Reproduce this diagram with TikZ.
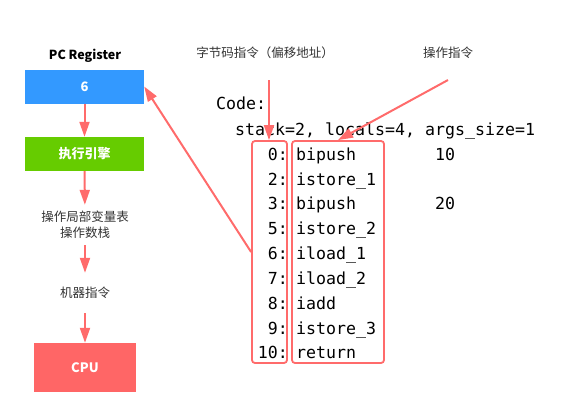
\documentclass[tikz,border=0pt]{standalone}
\usepackage{fontspec}
\setmainfont{Noto Sans CJK SC}
\setmonofont{DejaVu Sans Mono}
\usetikzlibrary{arrows.meta}

\definecolor{pcblue}{HTML}{3399FF}
\definecolor{enggreen}{HTML}{66CC00}
\definecolor{cpured}{HTML}{FF6666}
\definecolor{linered}{HTML}{FF6B6B}
\definecolor{labelgray}{HTML}{333333}

\begin{document}
\begin{tikzpicture}[x=1bp, y=-1bp,
  font=\fontsize{12.5bp}{16bp}\selectfont, text=labelgray,
  stage/.style={minimum width=119bp, minimum height=34bp, inner sep=0pt,
               text=white, font=\fontsize{13bp}{16bp}\selectfont\bfseries,
               fill=#1},
  stagetext/.style={minimum height=40bp, inner sep=0pt, align=center},
  code/.style={inner sep=0pt, anchor=base west, text=black,
               font=\ttfamily\fontsize{16.6bp}{20bp}\selectfont},
  offset/.style={code, anchor=base east},
  codebox/.style={draw=linered, line width=1.8bp, rounded corners=3bp,
                 inner sep=0pt},
  flow/.style={draw=linered, line width=2bp,
               -{Triangle[length=15bp, width=10bp]}}
]
  \useasboundingbox (0,0) rectangle (572,416);

  % left column
  \node[font=\fontsize{12.5bp}{16bp}\selectfont\bfseries, text=black]
        (pctitle) at (85,56) {PC Register};
  \node[stage=pcblue]   (pcreg)  at (84.5,86.5) {6};
  \node[stage=enggreen] (engine) at (84.5,154)  {执行引擎};
  \node[stagetext] (locals) at (85,225) {操作局部变量表\\操作数栈};
  \node[stagetext] (machine) at (85,293) {机器指令};
  \node[stage=cpured, minimum width=102bp, minimum height=49bp]
        (cpu) at (85,367.5) {CPU};
  \draw[flow] (pcreg) -- (engine);
  \draw[flow] (engine) -- (locals);
  \draw[flow] (locals) -- (machine);
  \draw[flow] (machine) -- (cpu);

  % byte code listing
  \node[code] (codehead) at (216,109) {Code:};
  \node[code] (stackline) at (235,135) {stack=2, locals=4, args\_size=1};
  \node[offset] (n0)  at (288,160) {0:};
  \node[offset] (n2)  at (288,185) {2:};
  \node[offset] (n3)  at (288,209) {3:};
  \node[offset] (n5)  at (288,234) {5:};
  \node[offset] (n6)  at (288,259) {6:};
  \node[offset] (n7)  at (288,284) {7:};
  \node[offset] (n8)  at (288,309) {8:};
  \node[offset] (n9)  at (288,334) {9:};
  \node[offset] (n10) at (288,358) {10:};
  \node[code] (i0)  at (296,160) {bipush};
  \node[code] (i2)  at (296,185) {istore\_1};
  \node[code] (i3)  at (296,209) {bipush};
  \node[code] (i5)  at (296,234) {istore\_2};
  \node[code] (i6)  at (296,259) {iload\_1};
  \node[code] (i7)  at (296,284) {iload\_2};
  \node[code] (i8)  at (296,309) {iadd};
  \node[code] (i9)  at (296,334) {istore\_3};
  \node[code] (i10) at (296,358) {return};
  \node[code] (a0)  at (435,160) {10};
  \node[code] (a3)  at (435,209) {20};

  \node[codebox, minimum width=35bp, minimum height=222bp]
        (offs) at (269.5,252) {};
  \node[codebox, minimum width=92bp, minimum height=222bp]
        (ops) at (338,252) {};

  % labels on top
  \node (offlabel) at (265,53) {字节码指令（偏移地址）};
  \node (oplabel)  at (448,53) {操作指令};
  \coordinate (offstart) at (269,80);
  \coordinate (opstart)  at (448,80);
  \draw[flow] (offstart) -- (offstart |- offs.north);
  \draw[flow] (opstart) -- (ops.north);
  \draw[flow] (offs.west) -- (pcreg.east);
\end{tikzpicture}
\end{document}
